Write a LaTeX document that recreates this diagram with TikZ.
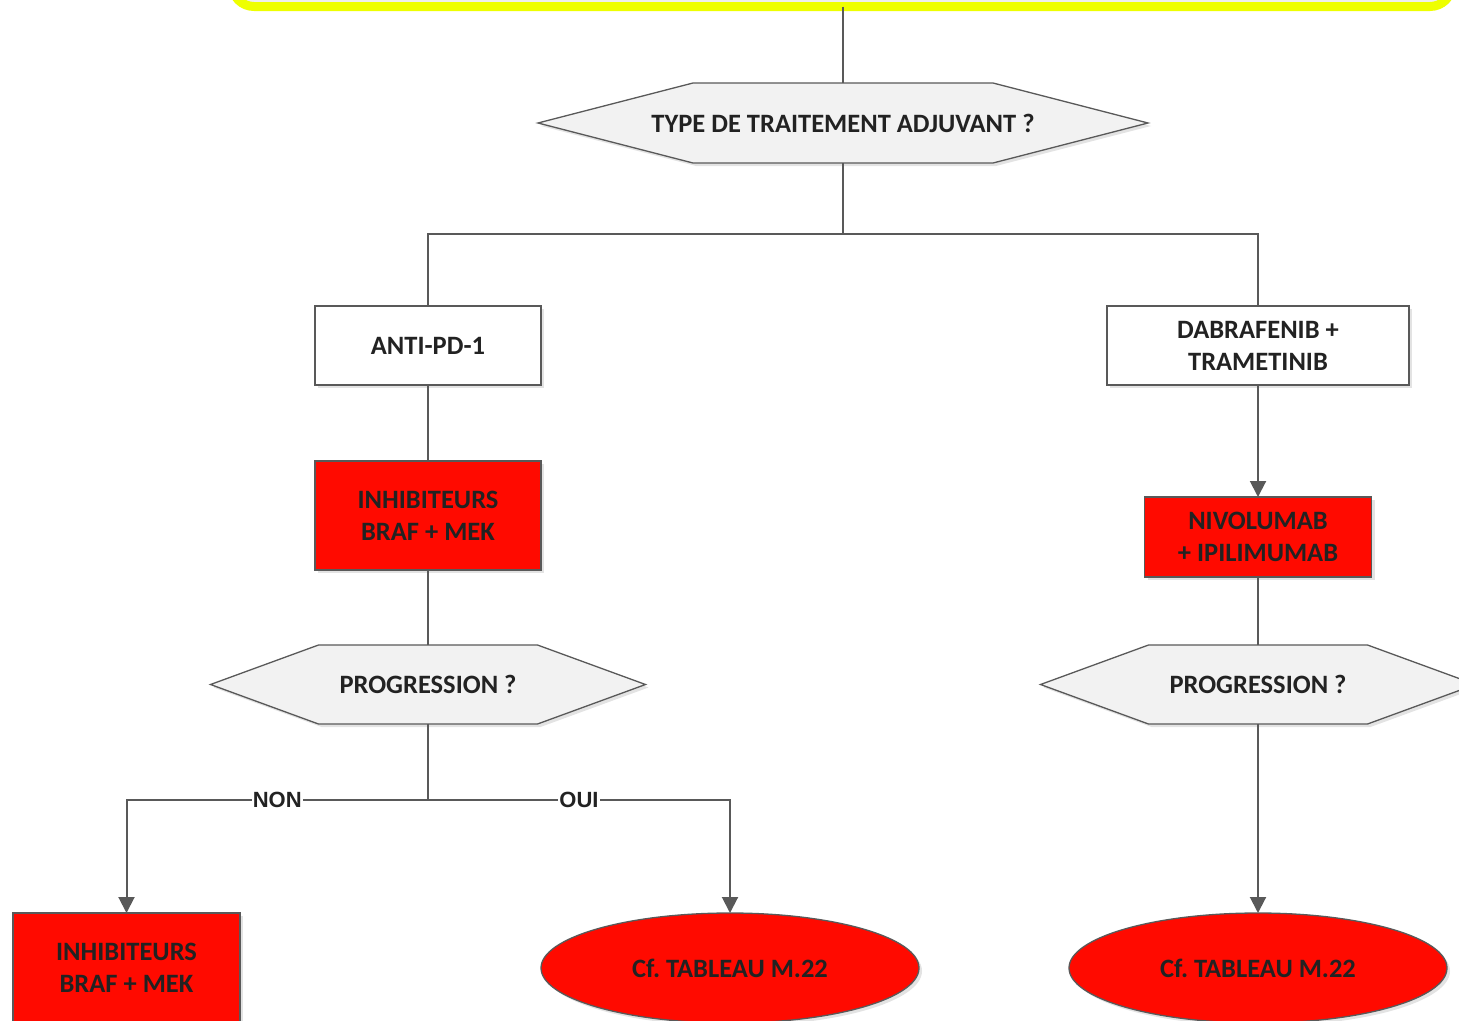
\documentclass[tikz,border=0pt]{standalone}
\usepackage{fontspec}
\setmainfont{Carlito}
\newfontfamily\edgefont{Liberation Sans}
\usetikzlibrary{shadows,calc,arrows.meta,shapes.geometric,backgrounds}

\definecolor{linegray}{HTML}{595959}
\definecolor{boxred}{HTML}{FF0A00}
\definecolor{txtdark}{HTML}{222222}
\definecolor{hexfill}{HTML}{F2F2F2}
\definecolor{headyellow}{HTML}{EEFF00}
\definecolor{headfill}{HTML}{EEEEEE}

% hexagonal decision outline drawn around a (borderless) node; #2 = depth of the side points
\newcommand\hexoutline[2]{%
  \begin{scope}[on background layer]
    \draw[hexline] ($(#1.north west)+(#2,0)$) -- ($(#1.north east)+(-#2,0)$) -- (#1.east)
      -- ($(#1.south east)+(-#2,0)$) -- ($(#1.south west)+(#2,0)$) -- (#1.west) -- cycle;
  \end{scope}}

\begin{document}
\frenchspacing
\begin{tikzpicture}[x=1pt,y=-1pt,
  softshadow/.style={drop shadow={shadow xshift=3pt,shadow yshift=-3pt,opacity=0.22,fill=gray}},
  nodetext/.style={font=\bfseries\fontsize{26.5}{32}\selectfont, text=txtdark, align=center},
  box/.style={nodetext, draw=linegray, line width=1.3pt, fill=white, outer sep=0pt,
    minimum width=226pt, minimum height=79pt, inner sep=0pt, softshadow},
  redbox/.style={box, fill=boxred},
  oval/.style={nodetext, ellipse, draw=linegray, line width=1.3pt, fill=boxred, outer sep=0pt,
    minimum width=378pt, minimum height=110pt, inner sep=0pt, softshadow},
  hexnode/.style={nodetext, rectangle, outer sep=0pt, inner sep=0pt},
  hexline/.style={draw=linegray, line width=1.3pt, fill=hexfill, softshadow},
  conn/.style={draw=linegray, line width=2pt},
  arr/.style={conn, -{Triangle[length=16pt,width=16pt]}},
  edgelabel/.style={fill=white, inner sep=1pt, text=txtdark, font=\edgefont\bfseries\fontsize{22}{22}\selectfont}
]
\useasboundingbox (0,0) rectangle (1459,1020);
\clip (0,0) rectangle (1459,1020);

% heading box, mostly above the visible area
\node[draw=headyellow, line width=9pt, fill=headfill, rounded corners=22pt, outer sep=0pt,
  minimum width=1220pt, minimum height=100pt, softshadow] (head) at (842,-43.5) {};

% first decision
\node[hexnode, minimum width=610pt, minimum height=80pt] (q1) at (843,123) {TYPE DE TRAITEMENT ADJUVANT ?};
\hexoutline{q1}{155}

% first-line treatments
\node[box] (pd1) at (428,345.5) {ANTI-PD-1};
\node[box, minimum width=302pt] (dt) at (1258,345.5) {DABRAFENIB +\\TRAMETINIB};

% left branch
\node[redbox, minimum height=109pt] (brafA) at (428,515.5) {INHIBITEURS\\BRAF + MEK};
\node[hexnode, minimum width=435pt, minimum height=79pt] (q2) at (428,684.5) {PROGRESSION ?};
\hexoutline{q2}{108}
\node[redbox, minimum width=227pt, minimum height=110pt] (brafB) at (126.5,968) {INHIBITEURS\\BRAF + MEK};
\node[oval] (tabA) at (730,968) {Cf. TABLEAU M.22};

% right branch
\node[redbox, minimum width=227pt, minimum height=80pt] (nivo) at (1258,537) {NIVOLUMAB\\+ IPILIMUMAB};
\node[hexnode, minimum width=435pt, minimum height=79pt] (q3) at (1258,684.5) {PROGRESSION ?};
\hexoutline{q3}{108}
\node[oval] (tabB) at (1258,968) {Cf. TABLEAU M.22};

% connectors
\draw[conn] (head.south -| q1.north) -- (q1.north);
\coordinate (split1) at (843,234);
\draw[conn] (q1.south) -- (split1);
\draw[conn] (split1) -| (pd1.north);
\draw[conn] (split1) -| (dt.north);
\draw[conn] (pd1.south) -- (brafA.north);
\draw[conn] (brafA.south) -- (q2.north);
\coordinate (split2) at (428,800);
\draw[conn] (q2.south) -- (split2);
\draw[arr] (split2) -| node[edgelabel, pos=0.25] {NON} (brafB.north);
\draw[arr] (split2) -| node[edgelabel, pos=0.25] {OUI} (tabA.north);
\draw[arr] (dt.south) -- (nivo.north);
\draw[conn] (nivo.south) -- (q3.north);
\draw[arr] (q3.south) -- (tabB.north);
\end{tikzpicture}
\end{document}
